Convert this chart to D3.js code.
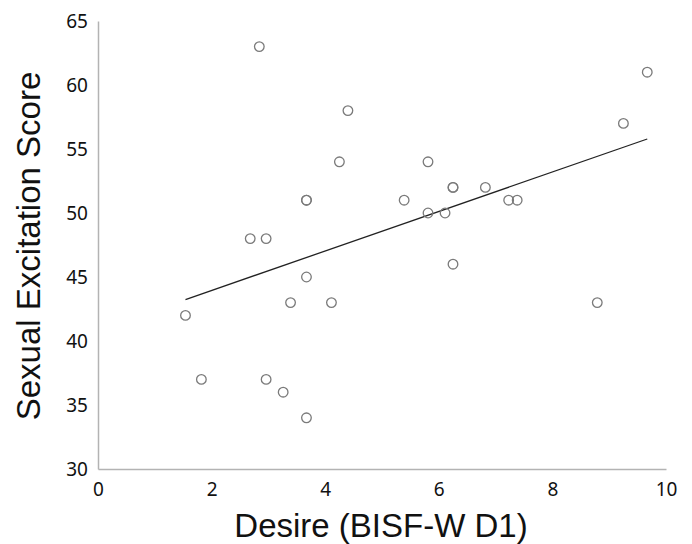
<!DOCTYPE html>
<meta charset="utf-8">
<script src="https://d3js.org/d3.v7.min.js"></script>
<style>
  body { margin: 0; background: #fff; }
</style>
<body>
<div id="chart"></div>
<script>

// data
var desire = [2.84, 4.40, 4.25, 3.67, 3.67, 2.68, 2.96, 3.67, 3.39, 4.11, 1.54, 1.82, 2.96, 3.26, 3.67,
              9.67, 9.25, 5.81, 6.25, 6.25, 6.82, 5.39, 7.23, 7.38, 5.81, 6.11, 6.25, 8.79];
var excitation = [63, 58, 54, 51, 51, 48, 48, 45, 43, 43, 42, 37, 37, 36, 34,
                  61, 57, 54, 52, 52, 52, 51, 51, 51, 50, 50, 46, 43];
var xTicks = [0, 2, 4, 6, 8, 10];
var yTicks = [30, 35, 40, 45, 50, 55, 60, 65];
// linear trendline as drawn
var trendSlope = 1.543, trendIntercept = 40.86;

var width = 692, height = 544;
var margin = {top: 21, right: 26, bottom: 75, left: 98};

var svg = d3.select("#chart").append("svg")
    .attr("width", width)
    .attr("height", height);

var x = d3.scaleLinear().domain([0, 10]).range([margin.left, width - margin.right]);
var y = d3.scaleLinear().domain([30, 65]).range([height - margin.bottom, margin.top]);

// axes (no tick marks, grey lines)
var xAxis = svg.append("g")
    .attr("transform", "translate(0," + y(30) + ")")
    .call(d3.axisBottom(x).tickValues(xTicks).tickSize(0).tickPadding(14));
var yAxis = svg.append("g")
    .attr("transform", "translate(" + x(0) + ",0)")
    .call(d3.axisLeft(y).tickValues(yTicks).tickSize(0).tickPadding(10));

[xAxis, yAxis].forEach(function(a) {
  a.select(".domain").attr("stroke", "#b3b3b3").attr("stroke-width", 1.5);
  a.selectAll("text")
    .style("font-family", "'Noto Sans', sans-serif")
    .style("font-size", "19px")
    .attr("fill", "#111");
});

// trendline across the data range
var xr = d3.extent(desire);
svg.append("path")
    .datum(xr)
    .attr("d", d3.line()
      .x(function(d) { return x(d); })
      .y(function(d) { return y(trendIntercept + trendSlope * d); }))
    .attr("stroke", "#222")
    .attr("stroke-width", 1.3)
    .attr("fill", "none");

// points
svg.append("g").selectAll("circle")
    .data(desire)
    .enter()
    .append("circle")
      .attr("cx", function(d) { return x(d); })
      .attr("cy", function(d, i) { return y(excitation[i]); })
      .attr("r", 4.8)
      .attr("fill", "none")
      .attr("stroke", "#7a7a7a")
      .attr("stroke-width", 1.3);

// axis titles
svg.append("text")
    .attr("x", 381)
    .attr("y", 537)
    .attr("text-anchor", "middle")
    .style("font-family", "'Liberation Sans', Arial, sans-serif")
    .style("font-size", "33px")
    .attr("fill", "#111")
    .text("Desire (BISF-W D1)");

svg.append("text")
    .attr("transform", "translate(40,246) rotate(-90)")
    .attr("text-anchor", "middle")
    .style("font-family", "'Liberation Sans', Arial, sans-serif")
    .style("font-size", "33px")
    .attr("fill", "#111")
    .text("Sexual Excitation Score");

</script>
</body>
